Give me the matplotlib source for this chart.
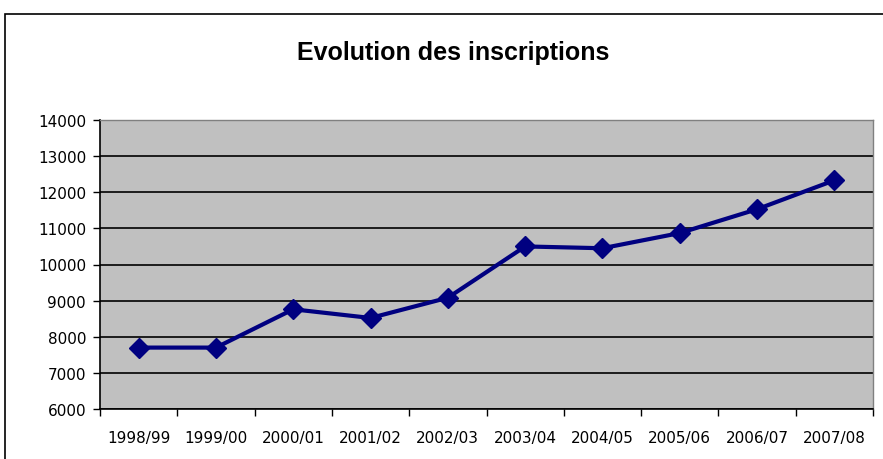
import matplotlib
matplotlib.use("Agg")
import matplotlib.pyplot as plt
from matplotlib.patches import Rectangle
import numpy as np

years = ["1998/99", "1999/00", "2000/01", "2001/02", "2002/03",
         "2003/04", "2004/05", "2005/06", "2006/07", "2007/08"]
inscriptions = [7700, 7700, 8760, 8520, 9080, 10500, 10450, 10870, 11530, 12330]
y_ticks = [6000, 7000, 8000, 9000, 10000, 11000, 12000, 13000, 14000]
title = "Evolution des inscriptions"

plt.rcParams['font.family'] = ['DejaVu Sans']

W, H = 883, 460
fig = plt.figure(figsize=(W / 100, H / 100), dpi=100)
fig.patch.set_facecolor('white')

# outer chart border
fig.patches.append(Rectangle((5 / W, -0.1), 1.2, (H - 15) / H + 0.1,
                             transform=fig.transFigure, fill=False,
                             edgecolor='black', linewidth=1.2))

left, right, top, bottom = 100, 873, 121, 410
ax = fig.add_axes([left / W, (H - bottom) / H, (right - left) / W, (bottom - top) / H])
ax.set_facecolor('#C0C0C0')

x = np.arange(len(years))
ax.plot(x, inscriptions, color='#000080', linewidth=3, marker='D',
        markersize=10, markerfacecolor='#000080', markeredgecolor='#000080', zorder=3)

ax.set_xlim(-0.5, len(years) - 0.5)
ax.set_ylim(y_ticks[0], y_ticks[-1])
ax.set_yticks(y_ticks)
ax.set_yticklabels([str(v) for v in y_ticks], fontsize=11)
ax.yaxis.grid(True, color='black', linewidth=1.2)
ax.set_axisbelow(True)

ax.set_xticks(x)
ax.set_xticklabels(years, fontsize=11)
ax.set_xticks(np.arange(-0.5, len(years), 1.0), minor=True)
ax.tick_params(axis='x', which='major', length=0, pad=15)
ax.tick_params(axis='x', which='minor', length=5, width=1, color='black', direction='out')
ax.tick_params(axis='y', length=5, width=1, color='black', direction='out', pad=5)

for s in ['left', 'bottom']:
    ax.spines[s].set_color('black')
    ax.spines[s].set_linewidth(1.2)
for s in ['top', 'right']:
    ax.spines[s].set_color('#808080')
    ax.spines[s].set_linewidth(1)

fig.text((290 + 617) / 2 / W, 1 - 53 / H, title, ha='center', va='center',
         fontsize=18, fontweight='bold', family=['Liberation Sans', 'DejaVu Sans'])

fig.savefig('out.png', dpi=100)
